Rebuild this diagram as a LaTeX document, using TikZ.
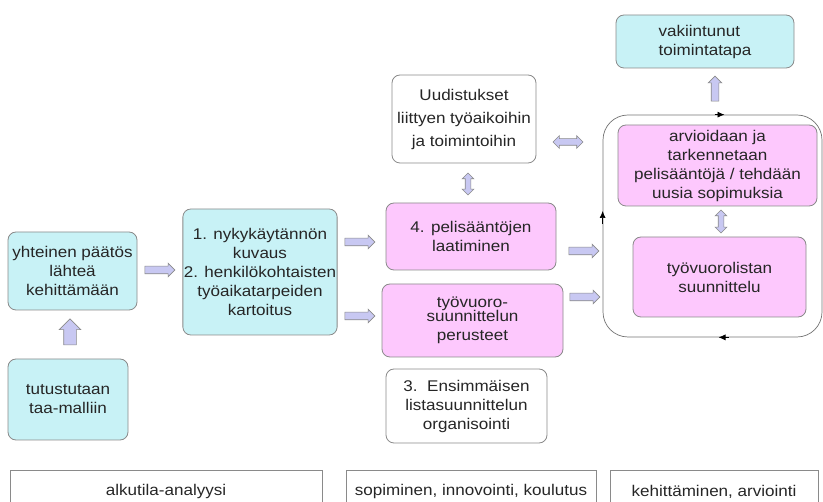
\documentclass[tikz,border=0pt]{standalone}
\usepackage{fontspec}
\setmainfont{Liberation Sans}[FakeStretch=1.1]
\usetikzlibrary{arrows.meta,shapes.arrows,calc}
\definecolor{cyanfill}{HTML}{C8F2F6}
\definecolor{pinkfill}{HTML}{FDC8FD}
\definecolor{arrowfill}{HTML}{C8C8F2}
\definecolor{edgegray}{HTML}{8A8A8A}

\begin{document}
\begin{tikzpicture}[x=1pt,y=-1pt,font=\fontsize{15.5}{19}\selectfont]
  %----- styles
  \tikzset{
    box/.style     ={draw=edgegray,line width=0.8pt,rounded corners=8pt,align=center,inner sep=1pt,text=black!85},
    cyanbox/.style ={box,fill=cyanfill},
    pinkbox/.style ={box,fill=pinkfill},
    whitebox/.style={box,fill=white},
    phase/.style   ={draw=edgegray,line width=0.8pt,anchor=north,minimum height=42pt,text=black!85},
    fwd/.style     ={single arrow,draw=edgegray,fill=arrowfill,line width=0.6pt,minimum height=30pt,
                     inner sep=3.5pt,single arrow head extend=3pt,single arrow head indent=0pt},
    both/.style    ={double arrow,draw=edgegray,fill=arrowfill,line width=0.6pt,minimum height=30pt,
                     inner sep=3pt,double arrow head extend=3pt},
    loopbox/.style ={draw=gray!90!black,line width=0.7pt,rounded corners=25pt},
    looptip/.style ={-{Latex[length=7pt,width=6pt]},line width=0.7pt}
  }

  \useasboundingbox (0,0) rectangle (823,502);
  \clip (0,0) rectangle (823,502);

  %----- left column
  \node[cyanbox,minimum width=129,minimum height=78] (start) at (72.5,271)
    {yhteinen päätös\\ lähteä\\ kehittämään};
  \node[cyanbox,minimum width=120,minimum height=81] (taa) at (68,399.5)
    {tutustutaan\\ taa-malliin};
  \node[cyanbox,minimum width=154,minimum height=126] (kartoitus) at (260,272)
    {1. nykykäytännön\\ kuvaus\\ 2. henkilökohtaisten\\ työaikatarpeiden\\ kartoitus};

  %----- middle column
  \node[whitebox,minimum width=144,minimum height=88] (uudistus) at (464,119)
    {Uudistukset\\[4pt] liittyen työaikoihin\\[4pt] ja toimintoihin};
  \node[pinkbox,minimum width=170,minimum height=67] (pelisaannot) at (471,236.5)
    {4. pelisääntöjen\\ laatiminen};
  \node[pinkbox,minimum width=181,minimum height=73] (perusteet) at (472.5,320.5)
    {työvuoro-\\[-5pt] suunnittelun\\ perusteet};
  \node[whitebox,minimum width=161,minimum height=74] (ensimmainen) at (466.5,406)
    {3.\ \ Ensimmäisen\\ listasuunnittelun\\ organisointi};

  %----- right column
  \node[cyanbox,align=left,minimum width=178,minimum height=53] (vakiintunut) at (705,41.5)
    {vakiintunut\\ toimintatapa};
  \node[loopbox,minimum width=219,minimum height=222] (loop) at (712.5,226) {};
  \node[pinkbox,minimum width=199,minimum height=81] (arvioidaan) at (717.5,165.5)
    {arvioidaan ja\\ tarkennetaan\\ pelisääntöjä / tehdään\\ uusia sopimuksia};
  \node[pinkbox,minimum width=173,minimum height=80] (vuorolista) at (719.5,277)
    {työvuorolistan\\ suunnittelu};

  % loop direction marks
  \draw[looptip] ([xshift=2]loop.north) -- ([xshift=12]loop.north);
  \draw[looptip] ([yshift=2]loop.west) -- ([yshift=15]loop.west);
  \draw[looptip] ([xshift=16]loop.south) -- ([xshift=6]loop.south);

  %----- block arrows
  \node[fwd,rotate=90,minimum height=26pt,inner sep=6pt,single arrow head extend=4.5pt] (a1) at (70,335) {};
  \node[fwd] (a2) at (158,270) {};
  \node[fwd] (a3) at (358,242) {};
  \node[fwd] (a4) at (358,316) {};
  \node[both] (a5) at (568,142) {};
  \node[both,rotate=90,minimum height=22pt,inner sep=2.5pt] (a6) at (468,184) {};
  \node[fwd] (a7) at (582,251) {};
  \node[fwd] (a8) at (583,297) {};
  \node[both,rotate=90,minimum height=23pt,inner sep=2.5pt] (a9) at (721,221.5) {};
  \node[fwd,rotate=90,minimum height=25pt] (a10) at (715,90.5) {};

  %----- phase labels
  \node[phase,minimum width=312] (alku)  at (166,470) {alkutila-analyysi};
  \node[phase,minimum width=250] (sopim) at (471,470) {sopiminen, innovointi, koulutus};
  \node[phase,minimum width=208] (kehit) at (714,470) {kehittäminen, arviointi};
\end{tikzpicture}
\end{document}
